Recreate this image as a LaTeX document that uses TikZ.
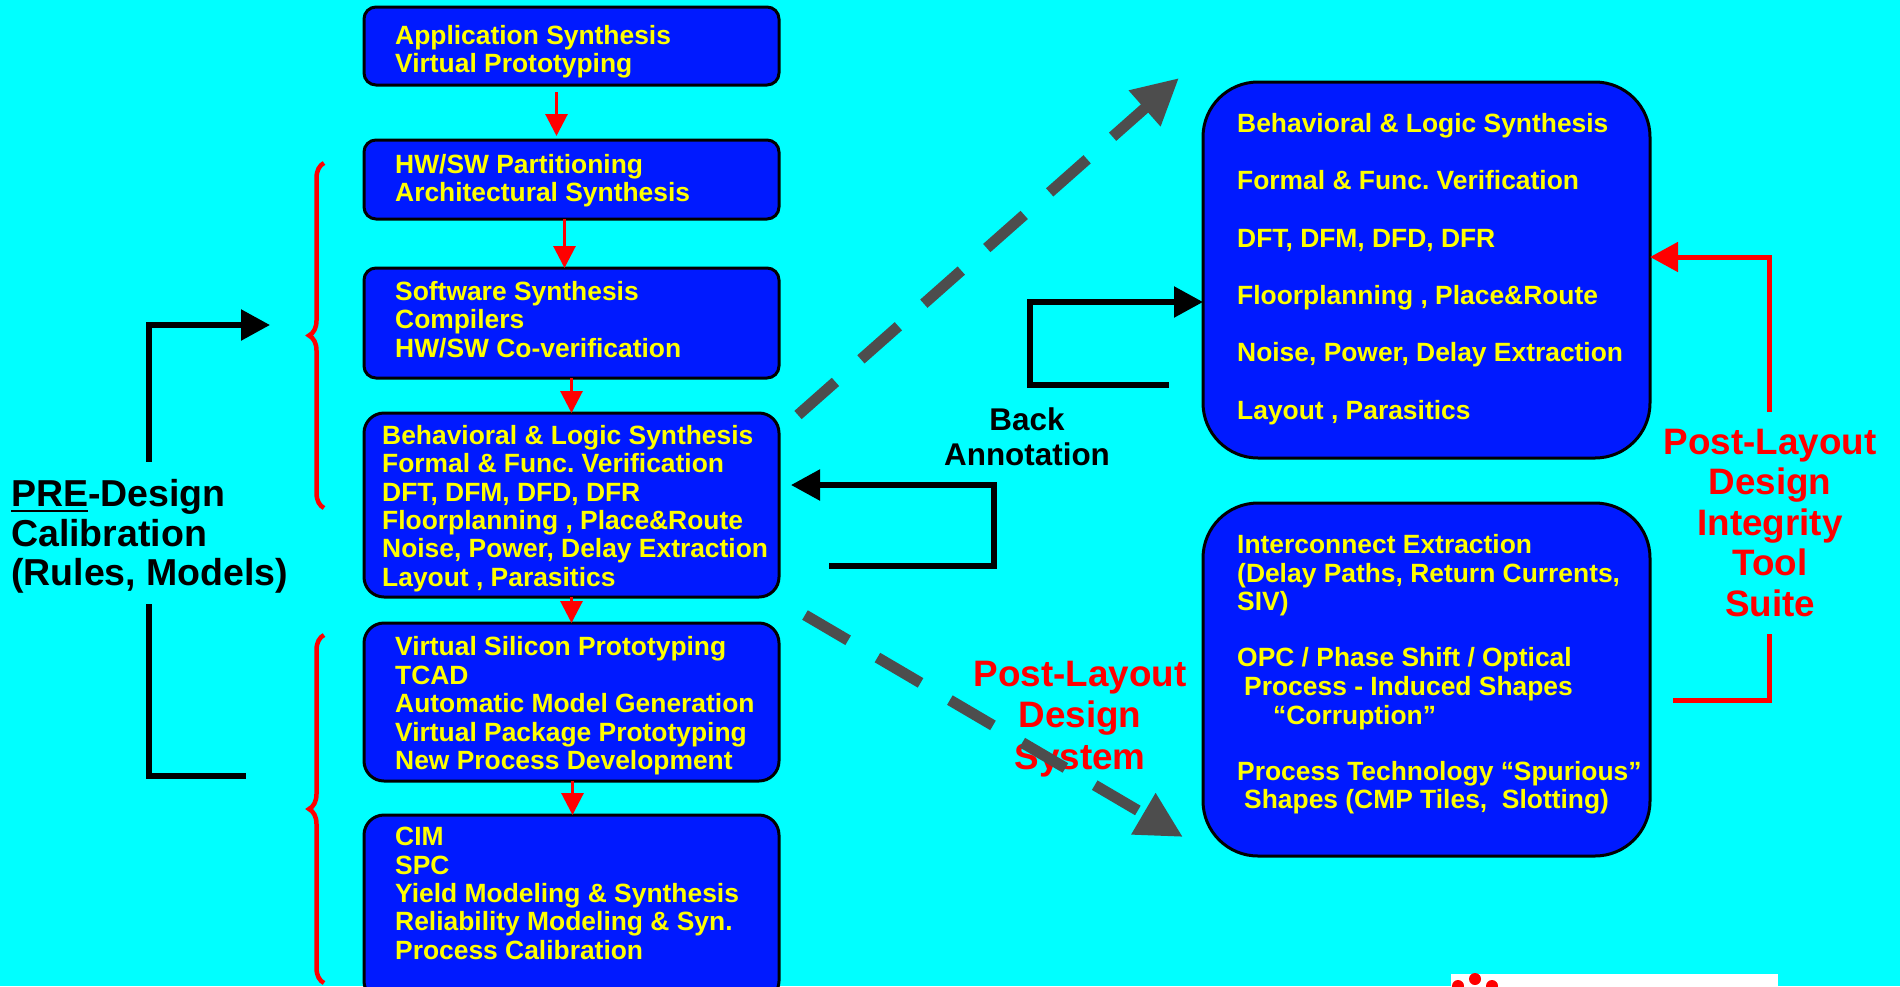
\documentclass[tikz,border=0pt]{standalone}
\usepackage{fontspec}
\setmainfont{Liberation Sans}
\usepackage{tikz}
\usetikzlibrary{positioning, arrows.meta, calc, decorations.pathreplacing}
\definecolor{bgcyan}{RGB}{0,255,255}
\definecolor{boxblue}{RGB}{0,26,255}
\definecolor{txtyellow}{RGB}{255,255,0}
\definecolor{flowred}{RGB}{255,0,0}
\definecolor{dashgray}{RGB}{77,77,77}
\newcommand{\prebar}[1]{\setbox0\hbox{#1}\rlap{\rule[-5.5pt]{\wd0}{2.8pt}}#1}
\frenchspacing

\begin{document}
\begin{tikzpicture}[x=1pt, y=-1pt,
    lbox/.style={rectangle, draw=black, line width=3pt, fill=boxblue, rounded corners=12pt, minimum width=415pt, inner sep=0pt, outer sep=0pt},
    bigbox/.style={lbox, rounded corners=20pt},
    rbox/.style={lbox, rounded corners=55pt, minimum width=447pt},
    ltext/.style={anchor=north west, align=left, inner sep=0pt, text=txtyellow, font=\fontsize{26.4}{28.4}\selectfont\bfseries},
    rtext/.style={ltext, font=\fontsize{26.4}{57.4}\selectfont\bfseries},
    btext/.style={ltext, font=\fontsize{26.4}{28.7}\selectfont\bfseries},
    pretext/.style={anchor=north west, align=left, inner sep=0pt, font=\fontsize{37.5}{39.3}\selectfont\bfseries},
    bktext/.style={anchor=north, align=center, inner sep=0pt, font=\fontsize{31.4}{35}\selectfont\bfseries},
    redtext/.style={anchor=north, align=center, inner sep=0pt, text=flowred, font=\fontsize{36.8}{40.5}\selectfont\bfseries},
    flowarrow/.style={draw=flowred, line width=3pt, -{Triangle[length=22pt, width=22pt]}},
    blkline/.style={draw=black, line width=5.5pt},
    blkarrow/.style={blkline, -{Triangle[length=29pt, width=30pt]}},
    redline/.style={draw=flowred, line width=5pt},
    redarrow/.style={redline, -{Triangle[length=28pt, width=29pt]}},
    dasharrow/.style={draw=dashgray, line width=11pt, dash pattern=on 50pt off 34pt, -{Triangle[length=46pt, width=45pt]}},
    brc/.style={draw=flowred, line width=4.5pt, decorate, decoration={brace, amplitude=15pt}}
]
\useasboundingbox (0,0) rectangle (1900,986);
\fill[bgcyan] (0,0) rectangle (1900,986);

% left column of flow boxes
\node[lbox, minimum height=78pt] (b1) at (571.5,46) {};
\node[lbox, minimum height=79pt, below=55pt of b1] (b2) {};
\node[lbox, minimum height=110pt, below=49pt of b2] (b3) {};
\node[bigbox, minimum height=184pt, below=35pt of b3] (b4) {};
\node[bigbox, minimum height=158pt, below=26pt of b4] (b5) {};
\node[bigbox, minimum height=186pt, below=34pt of b5] (b6) {};

\node[ltext] (t1) at ([xshift=31pt,yshift=-18pt]b1.north west) {Application Synthesis\\Virtual Prototyping};
\node[ltext] (t2) at ([xshift=31pt,yshift=-14pt]b2.north west) {HW/SW Partitioning\\Architectural Synthesis};
\node[ltext] (t3) at ([xshift=31pt,yshift=-13pt]b3.north west) {Software Synthesis\\Compilers\\HW/SW Co-verification};
\node[ltext] (t4) at ([xshift=18pt,yshift=-12pt]b4.north west) {Behavioral \& Logic Synthesis\\Formal \& Func. Verification\\DFT, DFM, DFD, DFR\\Floorplanning , Place\&Route\\Noise, Power, Delay Extraction\\Layout , Parasitics};
\node[ltext] (t5) at ([xshift=31pt,yshift=-13.5pt]b5.north west) {Virtual Silicon Prototyping\\TCAD\\Automatic Model Generation\\Virtual Package Prototyping\\New Process Development};
\node[ltext] (t6) at ([xshift=31pt,yshift=-12pt]b6.north west) {CIM\\SPC\\Yield Modeling \& Synthesis\\Reliability Modeling \& Syn.\\Process Calibration};

\draw[flowarrow, shorten <=7pt, shorten >=4pt] ([xshift=-15pt]b1.south) -- ([xshift=-15pt]b2.north);
\draw[flowarrow] ([xshift=-7pt]b2.south) -- ([xshift=-7pt]b3.north);
\draw[flowarrow] (b3.south) -- (b4.north);
\draw[flowarrow] (b4.south) -- (b5.north);
\draw[flowarrow] ([xshift=1pt]b5.south) -- ([xshift=1pt]b6.north);

% braces and pre-design calibration
\draw[brc] (324,508) -- (324,163);
\draw[brc] (324,983) -- (324,635);
\node[pretext] (pre) at (11,479.5) {\prebar{PRE}-Design\\Calibration\\(Rules, Models)};
\coordinate (pu) at (149,462);
\coordinate (pv) at (270,325);
\draw[blkarrow] (pu) |- (pv);
\coordinate (pl) at (149,604);
\coordinate (pm) at (246,776);
\draw[blkline] (pl) |- (pm);

% post-layout boxes
\node[rbox, minimum height=376pt] (rt) at (1426.5,270) {};
\node[rbox, minimum height=353pt, below=45pt of rt] (rb) {};
\node[rtext] (trt) at ([xshift=34pt,yshift=-31pt]rt.north west) {Behavioral \& Logic Synthesis\\Formal \& Func. Verification\\DFT, DFM, DFD, DFR\\Floorplanning , Place\&Route\\Noise, Power, Delay Extraction\\Layout , Parasitics};
\node[btext] (trb) at ([xshift=34pt,yshift=-31pt]rb.north west) {Interconnect Extraction\\(Delay Paths, Return Currents,\\SIV)\\[27.3pt]OPC / Phase Shift / Optical\\\hspace*{7pt}Process - Induced Shapes\\\hspace*{36pt}“Corruption”\\[27.3pt]Process Technology “Spurious”\\\hspace*{7pt}Shapes (CMP Tiles, \ Slotting)};

% back annotation loops
\node[bktext] (back) at (1027,408) {Back\\Annotation};
\coordinate (c1) at (1169,385);
\coordinate (c2) at (1030,302);
\draw[blkarrow] (c1) -| (c2) -- (c2 -| rt.west);
\coordinate (c3) at (829,566);
\coordinate (c4) at (994,485);
\draw[blkarrow] (c3) -| (c4) -- ($(c4 -| b4.east)+(12,0)$);

% integrity tool suite
\node[redtext] (pdi) at (1770,428.5) {Post-Layout\\Design\\Integrity\\Tool\\Suite};
\coordinate (r1) at (1769,412);
\draw[redarrow] (r1) |- ($(rt.east)+(0,-13)$);
\coordinate (r3) at (1769,634);
\coordinate (r4) at (1673,700);
\draw[redline] (r3) |- (r4);

\node[redtext, font=\fontsize{36.8}{41.5}\selectfont\bfseries] (pds) at (1080,660.5) {Post-Layout\\Design\\System};

\draw[dasharrow] ($(b4.north east)+(19,2)$) -- ($(rt.north west)+(-24,-4)$);
\draw[dasharrow] ($(b4.south east)+(26,18)$) -- ($(rb.south west)+(-20,-19)$);

% logo strip
\fill[white] (1451,974) rectangle (1778,990);
\fill[flowred] (1475,979) circle (6pt) (1458,986) circle (6pt) (1492,986) circle (6pt);
\end{tikzpicture}
\end{document}
